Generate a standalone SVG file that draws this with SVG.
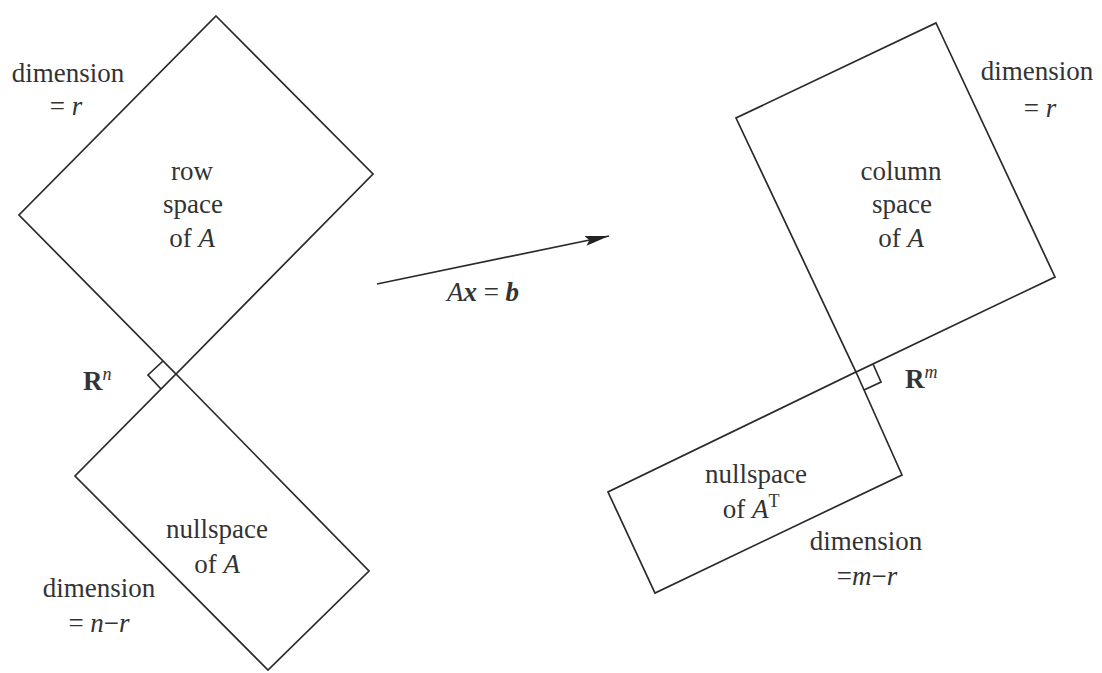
<svg xmlns="http://www.w3.org/2000/svg" width="1102" height="673" viewBox="0 0 1102 673">
<style>
.shape{fill:none;stroke:#2a2a2a;stroke-width:1.7;stroke-linejoin:miter}
.conn{fill:none;stroke:#2a2a2a;stroke-width:1.7}
text{font-family:"Liberation Serif","Times New Roman",serif;font-size:27px;fill:#333}
.c{text-anchor:middle}
.i{font-style:italic}
.b{font-weight:bold}
.sup{font-size:18px}
</style>
<defs>
<marker id="arr" viewBox="0 0 24 10" refX="24" refY="5" markerWidth="24" markerHeight="10" markerUnits="userSpaceOnUse" orient="auto">
<path d="M0,0 L24,5 L0,10 L4,5 Z" fill="#222"/>
</marker>
</defs>
<rect width="1102" height="673" fill="#fff"/>
<g id="rowspace">
<polygon class="shape" points="216,16 373,174 176,374 19,215"/>
<text class="c" x="192" y="180">row</text>
<text class="c" x="193" y="213">space</text>
<text class="c" x="192" y="247">of <tspan class="i">A</tspan></text>
<text class="c" x="68" y="82">dimension</text>
<text class="c" x="66" y="115">= <tspan class="i">r</tspan></text>
</g>
<g id="nullspace">
<polygon class="shape" points="176,374 369,571 268,670 75,476"/>
<polyline class="shape" points="163,361 148,375 161,389"/>
<text class="c" x="217" y="538">nullspace</text>
<text class="c" x="217" y="573">of <tspan class="i">A</tspan></text>
<text class="c" x="99" y="597">dimension</text>
<text class="c" x="99" y="632">= <tspan class="i">n</tspan>−<tspan class="i">r</tspan></text>
<text x="83" y="390"><tspan class="b">R</tspan><tspan class="i sup" dy="-10">n</tspan></text>
</g>
<g id="columnspace">
<polygon class="shape" points="936,23 1055,277 856,372 736,118"/>
<text class="c" x="901" y="180">column</text>
<text class="c" x="902" y="213">space</text>
<text class="c" x="901" y="247">of <tspan class="i">A</tspan></text>
<text class="c" x="1037" y="80">dimension</text>
<text class="c" x="1040" y="117">= <tspan class="i">r</tspan></text>
</g>
<g id="leftnullspace">
<polygon class="shape" points="856,372 902,475 655,593 608,492"/>
<polyline class="shape" points="873,364 881,382 864,390"/>
<text class="c" x="756" y="483">nullspace</text>
<text class="c" x="751" y="518">of <tspan class="i">A</tspan><tspan class="sup" dy="-11">T</tspan></text>
<text class="c" x="866" y="550">dimension</text>
<text class="c" x="867" y="585">=<tspan class="i">m</tspan>−<tspan class="i">r</tspan></text>
<text x="905" y="388"><tspan class="b">R</tspan><tspan class="i sup" dy="-10">m</tspan></text>
</g>
<g id="connectors">
<line class="conn" x1="377" y1="284" x2="609" y2="236" marker-end="url(#arr)"/>
<text class="c" x="483" y="301"><tspan class="i">A</tspan><tspan class="i b">x</tspan> = <tspan class="i b">b</tspan></text>
</g>
</svg>
